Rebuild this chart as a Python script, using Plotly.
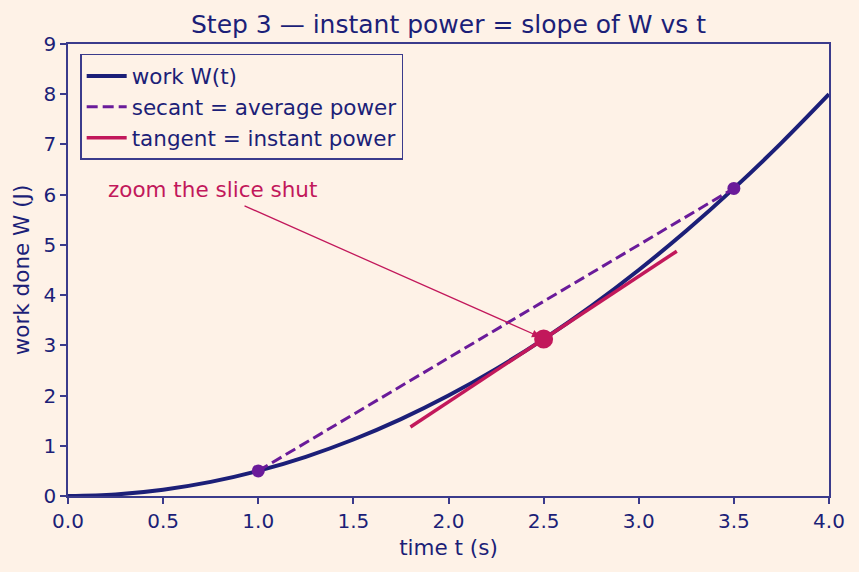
import plotly.graph_objects as go

# Data
t_curve = [0.0, 0.25, 0.5, 0.75, 1.0, 1.25, 1.5, 1.75, 2.0, 2.25, 2.5, 2.75, 3.0, 3.25, 3.5, 3.75, 4.0]
w_curve = [0.0, 0.031, 0.125, 0.281, 0.5, 0.781, 1.125, 1.531, 2.0, 2.531, 3.125, 3.781, 4.5, 5.281, 6.125, 7.031, 8.0]
secant_t = [1.0, 3.5]
secant_w = [0.5, 6.125]
tangent_t = [1.8, 3.2]
tangent_w = [1.375, 4.875]
point_t = [2.5]
point_w = [3.125]

BG = "#FEF2E7"
NAVY = "#1C1F78"
PURPLE = "#6A1B9A"
CRIMSON = "#C2185B"
AX = "#3B3B8C"
FONT = "DejaVu Sans"
FS_TICK = 20
FS = 21.5

fig = go.Figure()
fig.add_trace(go.Scatter(x=t_curve, y=w_curve, mode="lines", name="work W(t)",
                         line=dict(color=NAVY, width=4, shape="spline")))
fig.add_trace(go.Scatter(x=secant_t, y=secant_w, mode="lines", name="secant = average power",
                         line=dict(color=PURPLE, width=3, dash="11px,5px")))
fig.add_trace(go.Scatter(x=secant_t, y=secant_w, mode="markers", showlegend=False,
                         marker=dict(size=13, color=PURPLE)))
fig.add_trace(go.Scatter(x=tangent_t, y=tangent_w, mode="lines", name="tangent = instant power",
                         line=dict(color=CRIMSON, width=3.5)))
fig.add_trace(go.Scatter(x=point_t, y=point_w, mode="markers", showlegend=False,
                         marker=dict(size=19, color=CRIMSON)))

fig.add_annotation(x=2.48, y=3.17, ax=0.92, ay=5.79, xref="x", yref="y", axref="x", ayref="y",
                   text="", showarrow=True, arrowhead=2, arrowsize=1.2, arrowwidth=1.3,
                   arrowcolor=CRIMSON, standoff=0, startstandoff=0)
fig.add_annotation(x=0.2, y=6.1, xref="x", yref="y", text="zoom the slice shut",
                   showarrow=False, xanchor="left", yanchor="middle",
                   font=dict(family=FONT, size=FS, color=CRIMSON))

axis_common = dict(showgrid=False, zeroline=False, showline=True, mirror=True,
                   linecolor=AX, linewidth=1.5, ticks="outside", ticklen=6, tickwidth=1.5,
                   tickcolor=AX, tickfont=dict(family=FONT, size=FS_TICK, color=NAVY))
fig.update_xaxes(range=[0, 4], tickvals=[0, 0.5, 1, 1.5, 2, 2.5, 3, 3.5, 4], tickformat=".1f",
                 title=dict(text="time t (s)", font=dict(family=FONT, size=FS, color=NAVY), standoff=8),
                 **axis_common)
fig.update_yaxes(range=[0, 9], dtick=1,
                 title=dict(text="work done W (J)", font=dict(family=FONT, size=FS, color=NAVY), standoff=8),
                 **axis_common)

fig.update_layout(
    width=859, height=572,
    paper_bgcolor=BG, plot_bgcolor=BG,
    margin=dict(l=68, r=30, t=44, b=76),
    title=dict(text="Step 3 — instant power = slope of W vs t", x=0.5, xanchor="center",
               xref="paper", y=1 - 24/572, yanchor="middle",
               font=dict(family=FONT, size=25, color=NAVY)),
    legend=dict(x=0.016, y=0.978, xanchor="left", yanchor="top",
                bgcolor=BG, bordercolor=AX, borderwidth=1.5,
                font=dict(family=FONT, size=FS, color=NAVY), tracegroupgap=0,
                itemwidth=40),
    showlegend=True,
)

fig.write_html("out.html")
